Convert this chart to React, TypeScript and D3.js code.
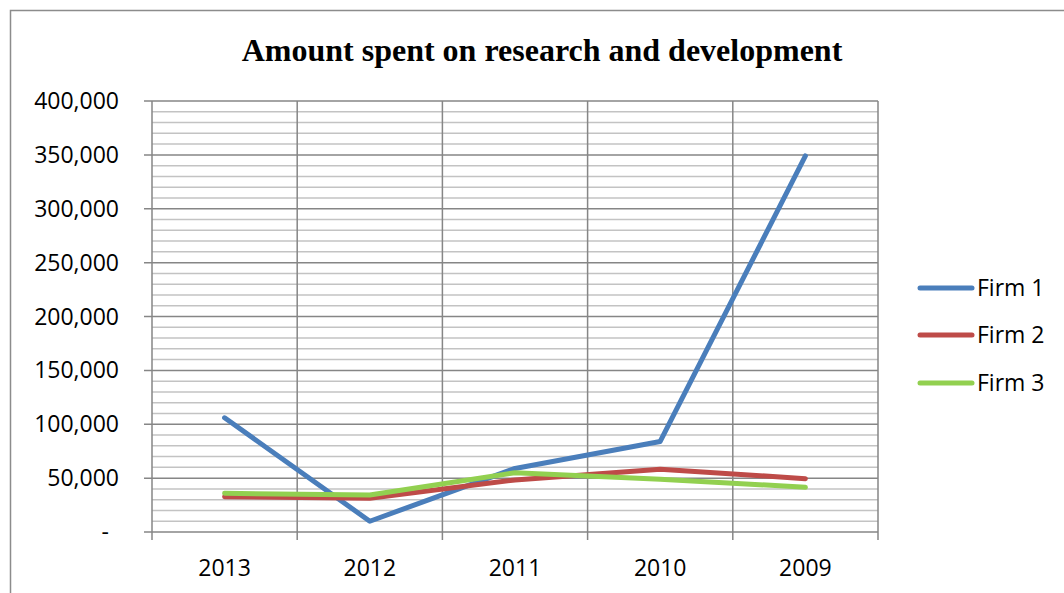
import React from "react";
import * as d3 from "d3";

const categories = ["2013", "2012", "2011", "2010", "2009"];
const seriesNames = ["Firm 1", "Firm 2", "Firm 3"];
const firm1 = [106000, 10000, 59000, 84000, 349000];
const firm2 = [32800, 31300, 48300, 58200, 49500];
const firm3 = [35900, 34300, 55000, 49000, 41500];
const colors = ["#4A7EBB", "#BE4B48", "#92D050"];
const yTicks = [0, 50000, 100000, 150000, 200000, 250000, 300000, 350000, 400000];
const minorStep = 10000;

const W = 1064;
const H = 593;
const plot = { left: 152, right: 878, top: 101, bottom: 532 };
const labelFont = "'Open Sans', 'Liberation Sans', Arial, sans-serif";

export default function App() {
  const x = d3.scaleBand<string>().domain(categories).range([plot.left, plot.right]).padding(0);
  const y = d3.scaleLinear().domain([0, 400000]).range([plot.bottom, plot.top]);
  const minor = d3.range(0, 400001, minorStep).filter((v) => v % 50000 !== 0);
  const boundaries = d3.range(categories.length + 1).map((i) => plot.left + i * x.bandwidth());
  const line = d3
    .line<number>()
    .x((_, i) => (x(categories[i]) as number) + x.bandwidth() / 2)
    .y((d) => y(d));
  const data = [firm1, firm2, firm3];
  const fmt = d3.format(",");
  const legendY = [288, 335, 383];

  return (
    <svg width={W} height={H} style={{ position: "absolute", left: 0, top: 0, background: "#fff" }}>
      <rect x={0} y={0} width={W} height={H} fill="#fff" />
      <rect x={10.5} y={10.5} width={W + 20} height={H + 20} fill="none" stroke="#8c8c8c" strokeWidth={1.5} />
      <text
        x={542}
        y={61}
        textAnchor="middle"
        fontFamily="'Liberation Serif', 'Times New Roman', serif"
        fontWeight="bold"
        fontSize={32}
        fill="#000"
      >
        Amount spent on research and development
      </text>
      {minor.map((v) => (
        <line key={"m" + v} x1={plot.left} x2={plot.right} y1={y(v)} y2={y(v)} stroke="#c3c3c3" strokeWidth={1.5} />
      ))}
      {yTicks.map((v) => (
        <line key={"g" + v} x1={plot.left - 8} x2={plot.right} y1={y(v)} y2={y(v)} stroke="#868686" strokeWidth={1.5} />
      ))}
      {boundaries.map((bx, i) => (
        <line key={"v" + i} x1={bx} x2={bx} y1={plot.top} y2={plot.bottom + 8} stroke="#868686" strokeWidth={1.5} />
      ))}
      {yTicks.map((v) => (
        <text
          key={"yl" + v}
          x={v === 0 ? 109 : 119}
          y={y(v)}
          dy="0.35em"
          textAnchor="end"
          fontFamily={labelFont}
          fontSize={23}
          fill="#000"
        >
          {v === 0 ? "-" : fmt(v)}
        </text>
      ))}
      {categories.map((c) => (
        <text
          key={"xl" + c}
          x={(x(c) as number) + x.bandwidth() / 2}
          y={576}
          textAnchor="middle"
          fontFamily={labelFont}
          fontSize={23}
          fill="#000"
        >
          {c}
        </text>
      ))}
      {data.map((s, i) => (
        <path
          key={"s" + i}
          d={line(s) || ""}
          fill="none"
          stroke={colors[i]}
          strokeWidth={5}
          strokeLinecap="round"
          strokeLinejoin="round"
        />
      ))}
      {seriesNames.map((n, i) => (
        <g key={"lg" + i}>
          <line x1={920} x2={972} y1={legendY[i]} y2={legendY[i]} stroke={colors[i]} strokeWidth={5} strokeLinecap="round" />
          <text x={977} y={legendY[i]} dy="0.35em" fontFamily={labelFont} fontSize={23} fill="#000">
            {n}
          </text>
        </g>
      ))}
    </svg>
  );
}
